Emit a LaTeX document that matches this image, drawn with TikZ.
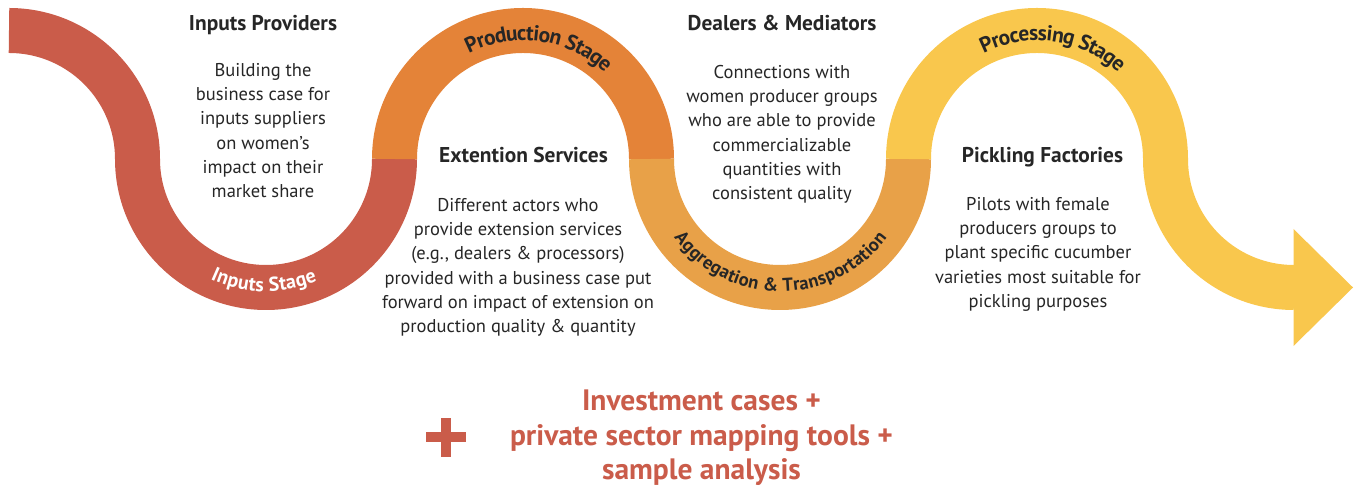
\documentclass[tikz,border=0pt]{standalone}
\usepackage{fontspec}
\setmainfont{PT Sans}
\usetikzlibrary{decorations.text}
\definecolor{bandred}{HTML}{CA5C4A}
\definecolor{bandorange}{HTML}{E48338}
\definecolor{bandlight}{HTML}{E8A148}
\definecolor{bandyellow}{HTML}{F9C74D}
\definecolor{ink}{HTML}{262626}
\newcommand{\stagefont}[1]{\bfseries\fontsize{#1}{#1}\selectfont}
\tikzset{
  band/.style={line width=45pt, line cap=butt},
  heading/.style={anchor=north, inner sep=0pt, text=ink, font=\bfseries\fontsize{21.4}{24}\selectfont},
  body/.style={anchor=north, inner sep=0pt, text=ink, align=center, font=\fontsize{18.5}{24.3}\selectfont},
  stagelabel/.style={decorate, decoration={text along path, text align=center, raise=#1}},
}
\begin{document}
\begin{tikzpicture}[x=1pt,y=1pt]
\useasboundingbox (0,0) rectangle (1354,486);
% band
\draw[band, bandred] (9,455.5) arc[start angle=90, end angle=0, radius=128.5]
   arc[start angle=180, end angle=360, radius=128.5];
\draw[band, bandorange] (394.5,327) arc[start angle=180, end angle=0, radius=128.5];
\draw[band, bandlight] (651.5,327) arc[start angle=180, end angle=360, radius=128.5];
\draw[band, bandyellow] (908.5,327) arc[start angle=180, end angle=0, radius=128.5]
   arc[start angle=180, end angle=270, radius=128.5] coordinate (shaftend);
\fill[bandyellow] ([xshift=-0.5pt,yshift=58.5pt]shaftend) -- ([xshift=59pt]shaftend) -- ([xshift=-0.5pt,yshift=-58.5pt]shaftend) -- cycle;
% stage labels
\path[stagelabel=-4pt, decoration={text={|\stagefont{20}\color{white}|Inputs Stage}}]
  ([shift={(266,327)}]200:128.5) arc[start angle=200, end angle=338, radius=128.5];
\path[stagelabel=-10pt, decoration={text={|\stagefont{21.5}\color{ink}|Production Stage}}]
  ([shift={(523.5,327)}]150:128.5) arc[start angle=150, end angle=14, radius=128.5];
\path[stagelabel=-4pt, decoration={text={|\stagefont{18.6}\color{ink}|Aggregation {\&} Transportation}}]
  ([shift={(780.5,327)}]190:128.5) arc[start angle=190, end angle=350, radius=128.5];
\path[stagelabel=-10pt, decoration={text={|\stagefont{21.5}\color{ink}|Processing Stage}}]
  ([shift={(1037.5,327)}]150:128.5) arc[start angle=150, end angle=14, radius=128.5];
% texts
\node[heading] (h1) at (263,471) {Inputs Providers};
\node[body] (b1) at (263,423) {Building the\\business case for\\inputs suppliers\\on women’s\\impact on their\\market share};
\node[heading] (h2) at (523.5,339) {Extention Services};
\node[body] (b2) at (518,288) {Different actors who\\provide extension services\\(e.g., dealers \& processors)\\provided with a business case put\\forward on impact of extension on\\production quality \& quantity};
\node[heading] (h3) at (782,471) {Dealers \& Mediators};
\node[body] (b3) at (782,421) {Connections with\\women producer groups\\who are able to provide\\commercializable\\quantities with\\consistent quality};
\node[heading] (h4) at (1042.5,339) {Pickling Factories};
\node[body] (b4) at (1038,289) {Pilots with female\\producers groups to\\plant specific cucumber\\varieties most suitable for\\pickling purposes};
% bottom
\node[anchor=north, inner sep=0pt, align=center, text=bandred, font=\bfseries\fontsize{29.5}{34.5}\selectfont] (inv) at (701.5,96)
  {Investment cases +\\private sector mapping tools +\\sample analysis};
\fill[bandred] (426,43.5) rectangle (466,53.5);
\fill[bandred] (441,29) rectangle (451,68);
\end{tikzpicture}
\end{document}
